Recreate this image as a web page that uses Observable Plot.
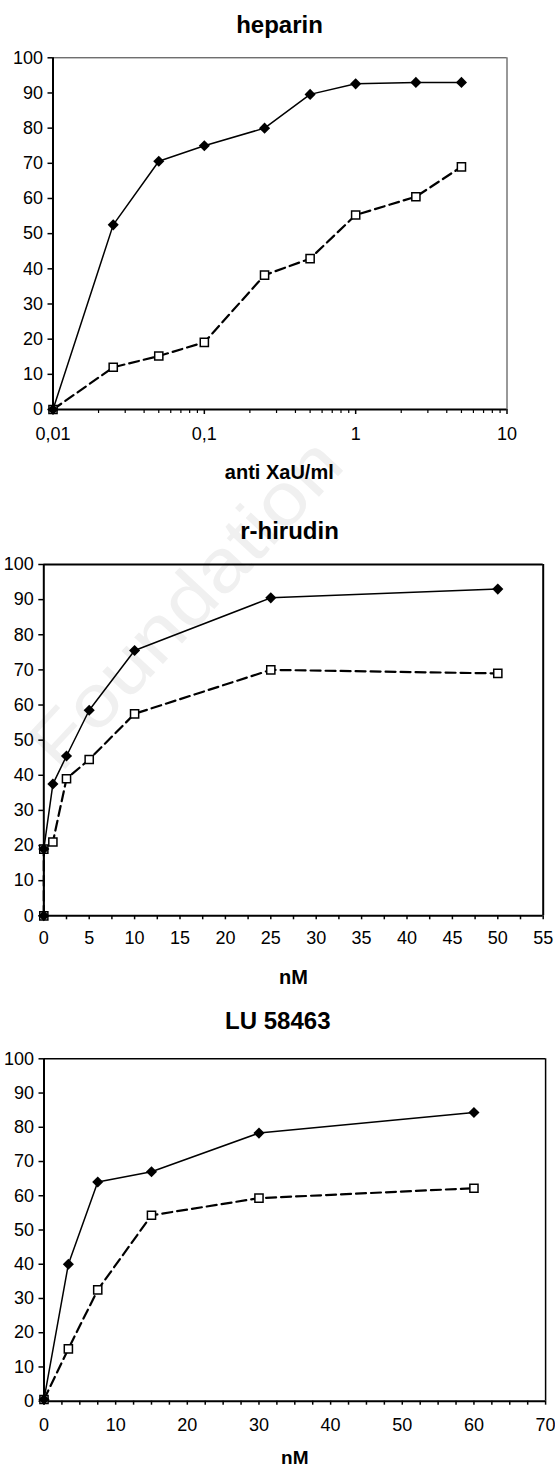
<!DOCTYPE html>
<html><head><meta charset="utf-8">
<script src="https://cdn.jsdelivr.net/npm/d3@7"></script>
<script src="https://cdn.jsdelivr.net/npm/@observablehq/plot@0.6"></script>
<style>
body{margin:0;background:#fff;width:555px;height:1468px;position:relative;overflow:hidden;font-family:"Liberation Sans",Arial,sans-serif}
#wm{position:absolute;left:0;top:0;z-index:0}
#charts{position:relative;z-index:1}
#charts svg{display:block}
</style></head><body>
<svg id="wm" width="555" height="1468"></svg>
<div id="charts"></div>
<script>
// ---- heparin ----
const hepDose = [0.01, 0.025, 0.05, 0.1, 0.25, 0.5, 1, 2.5, 5];
const hepSolid = [0, 52.5, 70.6, 75, 80, 89.6, 92.6, 93, 93];
const hepDashed = [0, 12, 15.2, 19.1, 38.2, 42.9, 55.3, 60.5, 69];
const hepTicks = [0.01, 0.1, 1, 10];
const hepTickLabels = ["0,01", "0,1", "1", "10"];

// ---- r-hirudin ----
const hirDose = [0, 0, 1, 2.5, 5, 10, 25, 50];
const hirSolid = [0, 19, 37.5, 45.5, 58.5, 75.5, 90.5, 93];
const hirDashed = [0, 19, 21, 39, 44.5, 57.5, 70, 69];
const hirTicks = [0, 5, 10, 15, 20, 25, 30, 35, 40, 45, 50, 55];

// ---- LU 58463 ----
const luDose = [0, 3.4, 7.5, 15, 30, 60];
const luSolid = [0.5, 40, 64, 67, 78.3, 84.3];
const luDashed = [0.5, 15.3, 32.5, 54.3, 59.3, 62.2];
const luTicks = [0, 10, 20, 30, 40, 50, 60, 70];

const yTicks = [0, 10, 20, 30, 40, 50, 60, 70, 80, 90, 100];

const FONT = "'Liberation Sans', Arial, sans-serif";
const toRows = (xs, ys) => xs.map((x, i) => ({x, y: ys[i]}));

function seriesMarks(solidRows, dashedRows) {
  return [
    Plot.line(dashedRows, {x: "x", y: "y", stroke: "black", strokeWidth: 2.2, strokeDasharray: "10,5"}),
    Plot.dot(dashedRows, {x: "x", y: "y", symbol: "square", r: 4.6, fill: "white", stroke: "black", strokeWidth: 1.5}),
    Plot.line(solidRows, {x: "x", y: "y", stroke: "black", strokeWidth: 1.5}),
    Plot.dot(solidRows, {x: "x", y: "y", symbol: "diamond2", r: 5, fill: "black"})
  ];
}

const charts = document.getElementById("charts");

// Panel 1
const minorLog = [-2, -1, 0].flatMap(e => [2,3,4,5,6,7,8,9].map(m => +(m * Math.pow(10, e)).toPrecision(3)));
charts.appendChild(Plot.plot({
  width: 555, height: 490,
  marginLeft: 52.5, marginRight: 48.5, marginTop: 57.3, marginBottom: 81,
  x: {type: "log", domain: [0.01, 10]},
  y: {domain: [0, 100]},
  style: {background: "transparent", fontFamily: FONT, color: "black", overflow: "visible"},
  marks: [
    Plot.ruleY([100], {stroke: "#333", strokeWidth: 1}),
    Plot.ruleX([10], {stroke: "#333", strokeWidth: 1}),
    Plot.axisX({ticks: minorLog, tickSize: 4, tickFormat: () => "", label: null, strokeWidth: 1.2}),
    Plot.axisX({ticks: hepTicks, tickSize: 5, tickPadding: 13, tickFormat: d => hepTickLabels[hepTicks.indexOf(d)], fontSize: 18, label: null, strokeWidth: 1.5}),
    Plot.axisY({ticks: yTicks, tickSize: 5, tickPadding: 5, fontSize: 18, label: null, strokeWidth: 1.5}),
    Plot.ruleX([0.01], {stroke: "black", strokeWidth: 2}),
    Plot.ruleY([0], {stroke: "black", strokeWidth: 2}),
    ...seriesMarks(toRows(hepDose, hepSolid), toRows(hepDose, hepDashed)),
    Plot.text(["heparin"], {text: d => d, frameAnchor: "top", lineAnchor: "bottom", dy: -25, dx: -0.5, fontSize: 24, fontWeight: "bold"}),
    Plot.text(["anti XaU/ml"], {text: d => d, frameAnchor: "bottom", lineAnchor: "bottom", dy: 69, dx: -0.7, fontSize: 20, fontWeight: "bold"})
  ]
}));

// Panel 2
charts.appendChild(Plot.plot({
  width: 555, height: 495,
  marginLeft: 43.3, marginRight: 12.3, marginTop: 74, marginBottom: 69.7,
  x: {domain: [0, 55]},
  y: {domain: [0, 100]},
  style: {background: "transparent", fontFamily: FONT, color: "black", overflow: "visible"},
  marks: [
    Plot.ruleY([100], {stroke: "black", strokeWidth: 2}),
    Plot.ruleX([55], {stroke: "black", strokeWidth: 2}),
    Plot.axisX({ticks: hirTicks.slice(0, -1).map(v => v + 2.5), tickSize: 4, tickFormat: () => "", label: null, strokeWidth: 1.5}),
    Plot.axisX({ticks: hirTicks, tickSize: 4, tickPadding: 11.5, fontSize: 18, label: null, strokeWidth: 1.5}),
    Plot.axisY({ticks: yTicks, tickSize: 5, tickPadding: 5, fontSize: 18, label: null, strokeWidth: 1.5}),
    Plot.ruleX([0], {stroke: "black", strokeWidth: 2}),
    Plot.ruleY([0], {stroke: "black", strokeWidth: 2}),
    ...seriesMarks(toRows(hirDose, hirSolid), toRows(hirDose, hirDashed)),
    Plot.text(["r-hirudin"], {text: d => d, frameAnchor: "top", lineAnchor: "bottom", dy: -25.7, dx: -4, fontSize: 24, fontWeight: "bold"}),
    Plot.text(["nM"], {text: d => d, frameAnchor: "bottom", lineAnchor: "bottom", dy: 68, fontSize: 20, fontWeight: "bold"})
  ]
}));

// Panel 3
charts.appendChild(Plot.plot({
  width: 555, height: 483,
  marginLeft: 43.5, marginRight: 9.9, marginTop: 73.3, marginBottom: 67.3,
  x: {domain: [0, 70]},
  y: {domain: [0, 100]},
  style: {background: "transparent", fontFamily: FONT, color: "black", overflow: "visible"},
  marks: [
    Plot.ruleY([100], {stroke: "black", strokeWidth: 1.5}),
    Plot.ruleX([70], {stroke: "black", strokeWidth: 1.5}),
    Plot.axisX({ticks: d3.range(0, 70.1, 2.5).filter(v => v % 10 !== 0), tickSize: 4, tickFormat: () => "", label: null, strokeWidth: 1.5}),
    Plot.axisX({ticks: luTicks, tickSize: 4, tickPadding: 13, fontSize: 18, label: null, strokeWidth: 1.5}),
    Plot.axisY({ticks: yTicks, tickSize: 5, tickPadding: 5, fontSize: 18, label: null, strokeWidth: 1.5}),
    Plot.ruleX([0], {stroke: "black", strokeWidth: 2}),
    Plot.ruleY([0], {stroke: "black", strokeWidth: 2}),
    ...seriesMarks(toRows(luDose, luSolid), toRows(luDose, luDashed)),
    Plot.text(["LU 58463"], {text: d => d, frameAnchor: "top", lineAnchor: "bottom", dy: -30, dx: -17, fontSize: 24, fontWeight: "bold"}),
    Plot.text(["nM"], {text: d => d, frameAnchor: "bottom", lineAnchor: "bottom", dy: 62.5, fontSize: 19, fontWeight: "bold"})
  ]
}));

// faint publisher watermark
d3.select("#wm").append("text")
  .attr("transform", "translate(185,603) rotate(-47)")
  .attr("text-anchor", "middle")
  .attr("dominant-baseline", "central")
  .attr("font-family", FONT)
  .attr("font-size", 74)
  .attr("fill", "#f0f0f0")
  .attr("textLength", 420)
  .attr("lengthAdjust", "spacingAndGlyphs")
  .text("Foundation");
</script>
</body></html>
